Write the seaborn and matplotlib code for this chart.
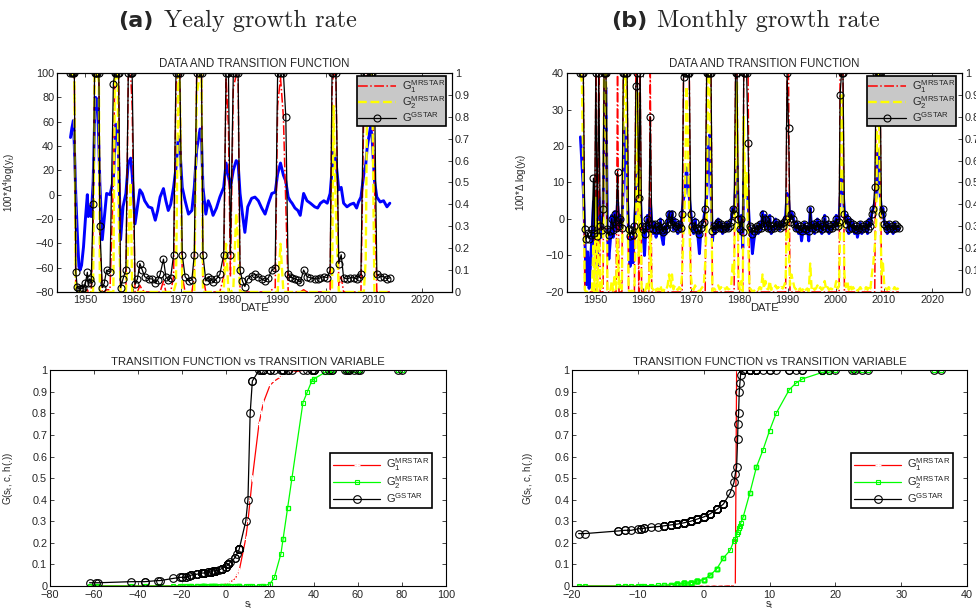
import numpy as np
import matplotlib
matplotlib.use('Agg')
import matplotlib.pyplot as plt
from matplotlib.ticker import FuncFormatter, MultipleLocator
import seaborn as sns

# (a) yearly growth rate: dates, data (transition variable) and transition functions
years_a = [1947.0, 1947.3, 1947.6, 1947.8, 1948.1, 1948.4, 1948.75, 1949.0, 1949.3, 1949.7,
           1950.1, 1950.5, 1950.7, 1951.0, 1951.3, 1951.7, 1952.0, 1952.2, 1952.6, 1952.9,
           1953.1, 1953.6, 1954.0, 1954.5, 1955.2, 1955.9, 1956.2, 1956.4, 1956.8, 1957.0,
           1957.4, 1957.9, 1958.5, 1959.0, 1959.5, 1959.8, 1960.4, 1960.9, 1961.4, 1961.9,
           1962.4, 1963.2, 1963.9, 1964.6, 1965.1, 1965.6, 1966.3, 1966.8, 1967.3, 1967.8,
           1968.4, 1968.9, 1969.4, 1969.7, 1970.2, 1970.8, 1971.5, 1972.2, 1972.7, 1973.2,
           1973.9, 1974.2, 1974.5, 1975.1, 1975.6, 1976.1, 1976.6, 1977.3, 1978.0, 1978.8,
           1979.3, 1979.8, 1980.2, 1980.8, 1981.4, 1981.8, 1982.2, 1982.7, 1983.2, 1983.8,
           1984.6, 1985.3, 1986.0, 1986.7, 1987.4, 1988.1, 1988.8, 1989.5, 1990.0, 1990.6,
           1991.2, 1991.7, 1992.2, 1992.6, 1993.0, 1993.6, 1994.2, 1994.7, 1995.4, 1996.1,
           1996.8, 1997.7, 1998.3, 1998.9, 1999.6, 2000.3, 2000.9, 2001.3, 2001.6, 2002.1,
           2002.7, 2003.2, 2003.7, 2004.4, 2005.1, 2005.8, 2006.4, 2006.8, 2007.3, 2007.9,
           2008.3, 2008.6, 2009.3, 2009.6, 2010.1, 2010.6, 2011.3, 2012.0, 2012.7, 2013.3]
growth_a = [47, 55, 61, 40, 0, -30, -59, -62, -58, -43,
            -20, 0, -18, -10, -18, 10, 60, 80, 78, 40,
            9, -37, -20, 1, 0, 12, 40, 58, 56, 28,
            -37, -10, 1, 26, 30, 17, -24, -10, 4, 1,
            -5, -10, -11, -21, -13, -2, 5, -5, -13, -8,
            6, 22, 48, 39, 6, -5, -16, -13, 6, 37,
            54, 45, 6, -16, -5, -10, -17, -11, -2, 6,
            26, 15, 6, 20, 28, 26, 1, -16, -31, -10,
            -3, -2, -5, -11, -16, -7, 1, 2, 17, 26,
            16, 11, -2, -5, -7, -11, -13, -17, 1, -5,
            -7, -10, -11, -7, -5, -7, 1, 20, 35, 28,
            4, 6, -7, -10, -8, -7, -11, -6, -2, 17,
            25, 39, 56, 48, 12, -2, -6, -5, -10, -7]
gstar_a = [1, 1, 1, 1, 0.09, 0.025, 0.015, 0.015, 0.015, 0.02,
           0.04, 0.09, 0.04, 0.06, 0.04, 0.4, 1, 1, 1, 1,
           0.3, 0.02, 0.04, 0.1, 0.09, 0.95, 1, 1, 1, 1,
           0.02, 0.06, 0.1, 1, 1, 1, 0.035, 0.06, 0.13, 0.1,
           0.07, 0.06, 0.06, 0.04, 0.055, 0.08, 0.15, 0.07, 0.055, 0.065,
           0.17, 1, 1, 1, 0.17, 0.07, 0.05, 0.055, 0.17, 1,
           1, 1, 0.17, 0.05, 0.07, 0.06, 0.045, 0.06, 0.08, 0.17,
           1, 1, 0.17, 1, 1, 1, 0.1, 0.05, 0.025, 0.06,
           0.075, 0.08, 0.07, 0.06, 0.05, 0.065, 0.1, 0.11, 1, 1,
           1, 0.8, 0.08, 0.07, 0.065, 0.06, 0.055, 0.045, 0.1, 0.07,
           0.065, 0.06, 0.06, 0.065, 0.07, 0.065, 0.1, 1, 1, 1,
           0.13, 0.17, 0.065, 0.06, 0.065, 0.065, 0.06, 0.07, 0.08, 1,
           1, 1, 1, 1, 0.95, 0.08, 0.07, 0.07, 0.06, 0.065]
g1_a = [1, 1, 1, 1, 0.01, 0, 0, 0, 0, 0,
        0, 0.01, 0, 0, 0, 0.3, 1, 1, 1, 1,
        0.22, 0, 0, 0.01, 0.01, 0.5, 1, 1, 1, 0.99,
        0, 0, 0.01, 0.98, 0.99, 0.85, 0, 0, 0.03, 0.01,
        0, 0, 0, 0, 0, 0, 0.05, 0, 0, 0,
        0.07, 0.95, 1, 1, 0.07, 0, 0, 0, 0.07, 1,
        1, 1, 0.07, 0, 0, 0, 0, 0, 0, 0.07,
        0.98, 0.75, 0.07, 0.93, 0.99, 0.98, 0.01, 0, 0, 0,
        0, 0, 0, 0, 0, 0, 0.01, 0.02, 0.85, 0.98,
        0.8, 0.4, 0, 0, 0, 0, 0, 0, 0.01, 0,
        0, 0, 0, 0, 0, 0, 0.01, 0.93, 1, 0.99,
        0.03, 0.07, 0, 0, 0, 0, 0, 0, 0, 0.85,
        0.97, 1, 1, 1, 0.5, 0, 0, 0, 0, 0]
g2_a = [0.99, 1, 1, 0.96, 0, 0, 0, 0, 0, 0,
        0, 0, 0, 0, 0, 0, 1, 1, 1, 0.96,
        0, 0, 0, 0, 0, 0, 0.96, 1, 1, 0.36,
        0, 0, 0, 0.22, 0.5, 0, 0, 0, 0, 0,
        0, 0, 0, 0, 0, 0, 0, 0, 0, 0,
        0, 0.04, 1, 0.95, 0, 0, 0, 0, 0, 0.9,
        1, 0.99, 0, 0, 0, 0, 0, 0, 0, 0,
        0.22, 0, 0, 0.01, 0.36, 0.22, 0, 0, 0, 0,
        0, 0, 0, 0, 0, 0, 0, 0, 0, 0.22,
        0, 0, 0, 0, 0, 0, 0, 0, 0, 0,
        0, 0, 0, 0, 0, 0, 0, 0.01, 0.85, 0.36,
        0, 0, 0, 0, 0, 0, 0, 0, 0, 0,
        0.15, 0.95, 1, 1, 0, 0, 0, 0, 0, 0]

# (b) monthly growth rate
years_b = [1947.0, 1947.3, 1947.6, 1947.9, 1948.2, 1948.5, 1948.8, 1949.1, 1949.4, 1949.7,
           1949.9, 1950.2, 1950.5, 1950.8, 1951.1, 1951.4, 1951.7, 1951.9, 1952.1, 1952.3,
           1952.6, 1952.9, 1953.2, 1953.5, 1953.8, 1954.1, 1954.4, 1954.7, 1955.0, 1955.3,
           1955.6, 1955.9, 1956.1, 1956.4, 1956.7, 1957.0, 1957.3, 1957.6, 1957.9, 1958.2,
           1958.5, 1958.8, 1959.1, 1959.4, 1959.7, 1960.0, 1960.3, 1960.6, 1960.9, 1961.2,
           1961.5, 1961.8, 1962.1, 1962.4, 1962.7, 1963.0, 1963.3, 1963.6, 1963.9, 1964.2,
           1964.5, 1964.8, 1965.1, 1965.4, 1965.7, 1966.0, 1966.3, 1966.6, 1966.9, 1967.2,
           1967.5, 1967.8, 1968.1, 1968.4, 1968.7, 1969.0, 1969.3, 1969.6, 1969.9, 1970.2,
           1970.5, 1970.8, 1971.1, 1971.4, 1971.7, 1972.0, 1972.3, 1972.6, 1972.9, 1973.2,
           1973.5, 1973.8, 1974.1, 1974.4, 1974.7, 1975.0, 1975.3, 1975.6, 1975.9, 1976.2,
           1976.5, 1976.8, 1977.1, 1977.4, 1977.7, 1978.0, 1978.3, 1978.6, 1978.9, 1979.2,
           1979.5, 1979.8, 1980.1, 1980.4, 1980.7, 1980.9, 1981.2, 1981.5, 1981.8, 1982.1,
           1982.4, 1982.7, 1983.0, 1983.3, 1983.6, 1983.9, 1984.2, 1984.5, 1984.8, 1985.1,
           1985.4, 1985.7, 1986.0, 1986.3, 1986.6, 1986.9, 1987.2, 1987.5, 1987.8, 1988.1,
           1988.4, 1988.7, 1989.0, 1989.3, 1989.6, 1989.9, 1990.2, 1990.5, 1990.8, 1991.1,
           1991.4, 1991.7, 1992.0, 1992.3, 1992.6, 1992.9, 1993.2, 1993.5, 1993.8, 1994.1,
           1994.4, 1994.7, 1995.0, 1995.3, 1995.6, 1995.9, 1996.2, 1996.5, 1996.8, 1997.1,
           1997.4, 1997.7, 1998.0, 1998.3, 1998.6, 1998.9, 1999.2, 1999.5, 1999.8, 2000.1,
           2000.4, 2000.7, 2000.9, 2001.2, 2001.5, 2001.8, 2002.1, 2002.4, 2002.7, 2003.0,
           2003.3, 2003.6, 2003.9, 2004.2, 2004.5, 2004.8, 2005.1, 2005.4, 2005.7, 2006.0,
           2006.3, 2006.6, 2006.9, 2007.2, 2007.5, 2007.8, 2008.1, 2008.4, 2008.7, 2008.9,
           2009.2, 2009.5, 2009.8, 2010.1, 2010.4, 2010.7, 2011.0, 2011.3, 2011.6, 2011.9,
           2012.2, 2012.5, 2012.8, 2013.1]
growth_b = [22.5, 15, 8, -4, -18, -9, -19, -12, -4, 4.8,
            -9, 7, -13, 6, -2, -5, 3, 20, 35, 36,
            -4, -11, -6, 1, -5, 2, -3, 5, -2, 1,
            -3, 10, 25, 24, 8, -4, -13, -5, -12, -2,
            5.5, 13, 4, 8, -2, -4, -10, -2, 1, -3,
            5.3, -1, -4, -1, -5, -2, -4, 0, -5, -7,
            -2, -4, 0, 2, -1, 2, -3, 0, -2, -4,
            -1, -3, 2, 5.6, 7, 14, 10, 6, 2, -2,
            -4, 0, -3, -5, -9.5, -3, -1, 0, 3, 6,
            18, 23, 8, -6, -2, -4, -1, 0, -3, -1,
            -4, -2, -3, -1, -3, -2, 0, 3, 2, 9,
            15, 1, -4, 1, -8, 11, 7, 8, 5.15, -2,
            -3, -9.5, -6, -3, -2, -4, -1, -3, 2, -2,
            1, -2, -3, 1, -4, -2, -3, 0, -2, -1,
            -3, -1, -2, 0, 1, 7, 5.2, 0, 2, 1,
            -1, -3, -1, -4, -2, -6, -3, -1, -4, -2,
            -6, 3, -3, -1, -4, -2, 0, -3, -1, -4,
            -2, 1, -3, -1, -4, -2, -3, -1, -2, 1,
            -2, 0, 5.4, 13, 8, 2, -1, 1, -4, 0,
            -3, -1, -4, -2, -5, -3, -1, -4, -2, -3,
            -1, -4, 0, -2, 2, 3, 4.6, 6, 19, 18,
            7, 2, 3, -1, -2, -4, -1, -3, -2, -4,
            -1, -3, -2, -3]
gstar_b = [1, 1, 1, 0.287, 0.243, 0.268, 0.243, 0.258, 0.287, 0.52,
           0.268, 1, 0.255, 1, 0.30, 0.283, 0.38, 1, 1, 1,
           0.287, 0.258, 0.279, 0.335, 0.283, 0.355, 0.293, 0.55, 0.30, 0.335,
           0.293, 1, 1, 1, 1, 0.287, 0.255, 0.283, 0.258, 0.30,
           0.94, 1, 0.43, 1, 0.30, 0.287, 0.265, 0.30, 0.335, 0.293,
           0.8, 0.31, 0.287, 0.31, 0.283, 0.30, 0.287, 0.32, 0.283, 0.275,
           0.30, 0.287, 0.32, 0.355, 0.31, 0.355, 0.293, 0.32, 0.30, 0.287,
           0.31, 0.293, 0.355, 0.98, 1, 1, 1, 1, 0.355, 0.30,
           0.287, 0.32, 0.293, 0.283, 0.266, 0.293, 0.31, 0.32, 0.38, 1,
           1, 1, 1, 0.279, 0.30, 0.287, 0.31, 0.32, 0.293, 0.31,
           0.287, 0.30, 0.293, 0.31, 0.293, 0.30, 0.32, 0.38, 0.355, 1,
           1, 0.335, 0.287, 0.335, 0.272, 1, 1, 1, 0.68, 0.30,
           0.293, 0.266, 0.279, 0.293, 0.30, 0.287, 0.31, 0.293, 0.355, 0.30,
           0.335, 0.30, 0.293, 0.335, 0.287, 0.30, 0.293, 0.32, 0.30, 0.31,
           0.293, 0.31, 0.30, 0.32, 0.335, 1, 0.75, 0.32, 0.355, 0.335,
           0.31, 0.293, 0.31, 0.287, 0.30, 0.279, 0.293, 0.31, 0.287, 0.30,
           0.279, 0.38, 0.293, 0.31, 0.287, 0.30, 0.32, 0.293, 0.31, 0.287,
           0.30, 0.335, 0.293, 0.31, 0.287, 0.30, 0.293, 0.31, 0.30, 0.335,
           0.30, 0.32, 0.9, 1, 1, 0.355, 0.31, 0.335, 0.287, 0.32,
           0.293, 0.31, 0.287, 0.30, 0.283, 0.293, 0.31, 0.287, 0.30, 0.293,
           0.31, 0.287, 0.32, 0.30, 0.355, 0.38, 0.48, 1, 1, 1,
           1, 0.355, 0.38, 0.31, 0.30, 0.287, 0.31, 0.293, 0.30, 0.287,
           0.31, 0.293, 0.30, 0.293]
g1_b = [1, 1, 1, 0, 0, 0, 0, 0, 0, 0,
        0, 1, 0, 1, 0, 0, 0, 1, 1, 1,
        0, 0, 0, 0, 0, 0, 0, 1, 0, 0,
        0, 1, 1, 1, 1, 0, 0, 0, 0, 0,
        1, 1, 0, 1, 0, 0, 0, 0, 0, 0,
        1, 0, 0, 0, 0, 0, 0, 0, 0, 0,
        0, 0, 0, 0, 0, 0, 0, 0, 0, 0,
        0, 0, 0, 1, 1, 1, 1, 1, 0, 0,
        0, 0, 0, 0, 0, 0, 0, 0, 0, 1,
        1, 1, 1, 0, 0, 0, 0, 0, 0, 0,
        0, 0, 0, 0, 0, 0, 0, 0, 0, 1,
        1, 0, 0, 0, 0, 1, 1, 1, 1, 0,
        0, 0, 0, 0, 0, 0, 0, 0, 0, 0,
        0, 0, 0, 0, 0, 0, 0, 0, 0, 0,
        0, 0, 0, 0, 0, 1, 1, 0, 0, 0,
        0, 0, 0, 0, 0, 0, 0, 0, 0, 0,
        0, 0, 0, 0, 0, 0, 0, 0, 0, 0,
        0, 0, 0, 0, 0, 0, 0, 0, 0, 0,
        0, 0, 1, 1, 1, 0, 0, 0, 0, 0,
        0, 0, 0, 0, 0, 0, 0, 0, 0, 0,
        0, 0, 0, 0, 0, 0, 0, 1, 1, 1,
        1, 0, 0, 0, 0, 0, 0, 0, 0, 0,
        0, 0, 0, 0]
g2_b = [1, 0.96, 0.55, 0.01, 0, 0.001, 0, 0, 0.01, 0.22,
        0.001, 0.43, 0, 0.32, 0.016, 0.006, 0.13, 1, 1, 1,
        0.01, 0, 0.004, 0.05, 0.006, 0.08, 0.012, 0.24, 0.016, 0.05,
        0.012, 0.72, 1, 1, 0.55, 0.01, 0, 0.006, 0, 0.016,
        0.28, 0.91, 0.165, 0.55, 0.016, 0.01, 0, 0.016, 0.05, 0.012,
        0.27, 0.022, 0.01, 0.022, 0.006, 0.016, 0.01, 0.03, 0.006, 0.003,
        0.016, 0.01, 0.03, 0.08, 0.022, 0.08, 0.012, 0.03, 0.016, 0.01,
        0.022, 0.012, 0.08, 0.29, 0.43, 0.94, 0.72, 0.32, 0.08, 0.016,
        0.01, 0.03, 0.012, 0.006, 0.001, 0.012, 0.022, 0.03, 0.13, 0.32,
        0.99, 1, 0.55, 0.004, 0.016, 0.01, 0.022, 0.03, 0.012, 0.022,
        0.01, 0.016, 0.012, 0.022, 0.012, 0.016, 0.03, 0.13, 0.08, 0.63,
        0.96, 0.05, 0.01, 0.05, 0.002, 0.8, 0.43, 0.55, 0.25, 0.016,
        0.012, 0.001, 0.004, 0.012, 0.016, 0.01, 0.022, 0.012, 0.08, 0.016,
        0.05, 0.016, 0.012, 0.05, 0.01, 0.016, 0.012, 0.03, 0.016, 0.022,
        0.012, 0.022, 0.016, 0.03, 0.05, 0.43, 0.25, 0.03, 0.08, 0.05,
        0.022, 0.012, 0.022, 0.01, 0.016, 0.004, 0.012, 0.022, 0.01, 0.016,
        0.004, 0.13, 0.012, 0.022, 0.01, 0.016, 0.03, 0.012, 0.022, 0.01,
        0.016, 0.05, 0.012, 0.022, 0.01, 0.016, 0.012, 0.022, 0.016, 0.05,
        0.016, 0.03, 0.27, 0.91, 0.55, 0.08, 0.022, 0.05, 0.01, 0.03,
        0.012, 0.022, 0.01, 0.016, 0.006, 0.012, 0.022, 0.01, 0.016, 0.012,
        0.022, 0.01, 0.03, 0.016, 0.08, 0.13, 0.21, 0.32, 0.99, 0.99,
        0.43, 0.08, 0.13, 0.022, 0.016, 0.01, 0.022, 0.012, 0.016, 0.01,
        0.022, 0.012, 0.016, 0.012]

labels = [r'G$_1^{\mathrm{MRSTAR}}$', r'G$_2^{\mathrm{MRSTAR}}$', r'G$^{\mathrm{GSTAR}}$']

sns.set_style('ticks')
plt.rcParams['font.family'] = ['Liberation Sans', 'DejaVu Sans']
plt.rcParams['mathtext.fontset'] = 'custom'
plt.rcParams['mathtext.rm'] = 'Liberation Sans'
plt.rcParams['mathtext.it'] = 'Liberation Sans:italic'
plt.rcParams['mathtext.bf'] = 'Liberation Sans:bold'
plt.rcParams['xtick.direction'] = 'in'
plt.rcParams['ytick.direction'] = 'in'
plt.rcParams['axes.linewidth'] = 0.8
plt.rcParams['axes.edgecolor'] = 'black'

fmt = FuncFormatter(lambda v, p: '%g' % round(v, 2))
TICK = 7.8

fig = plt.figure(figsize=(9.76, 6.12), dpi=100)


def top_panel(rect, years, growth, g1, g2, gstar, ylim, ystep, ylabel, ylab_x):
    ax = fig.add_axes(rect)
    sns.lineplot(x=years, y=growth, ax=ax, color='#0000ff', lw=2.1,
                 estimator=None, sort=False)
    ax.set_xlim(1944.2, 2026.2)
    ax.set_ylim(*ylim)
    ax.set_xticks(range(1950, 2030, 10))
    ax.yaxis.set_major_locator(MultipleLocator(ystep))
    ax.tick_params(top=True, right=False, length=3, width=0.6, labelsize=TICK, pad=2)
    ax.set_title('DATA AND TRANSITION FUNCTION', fontsize=8.3, pad=4)
    ax.set_xlabel('DATE', fontsize=8, va='top')
    ax.xaxis.set_label_coords(0.5, -0.05)
    ax.set_ylabel(ylabel, fontsize=7)
    ax.yaxis.set_label_coords(ylab_x, 0.5)

    ax2 = ax.twinx()
    sns.lineplot(x=years, y=g1, ax=ax2, color='#ff0000', ls='-.', lw=1.1,
                 estimator=None, sort=False, label=labels[0])
    sns.lineplot(x=years, y=g2, ax=ax2, color='#ffff00', ls='--', lw=1.7,
                 estimator=None, sort=False, label=labels[1])
    sns.lineplot(x=years, y=gstar, ax=ax2, color='black', lw=0.9, marker='o',
                 ms=5, mfc='none', mec='black', mew=0.8,
                 estimator=None, sort=False, label=labels[2])
    ax2.set_ylim(0, 1)
    ax2.yaxis.set_major_locator(MultipleLocator(0.1))
    ax2.yaxis.set_major_formatter(fmt)
    ax2.tick_params(length=3, width=0.6, labelsize=TICK, pad=2)
    leg = ax2.legend(loc='upper right', bbox_to_anchor=(0.986, 0.985), fontsize=8,
                     facecolor='#c8c8c8', edgecolor='black', fancybox=False,
                     framealpha=1, borderpad=0.15, labelspacing=-0.05,
                     handlelength=3.4, handletextpad=0.5, borderaxespad=0)
    leg.get_frame().set_linewidth(1.2)
    return ax, ax2


def bottom_panel(rect, growth, g1, g2, gstar, xlim, xstep, ylab_x):
    ax = fig.add_axes(rect)
    order = np.argsort(growth, kind='stable')
    s = np.asarray(growth, dtype=float)[order]
    sns.lineplot(x=s, y=np.asarray(g1)[order], ax=ax, color='#ff0000', lw=0.9,
                 marker='+', ms=4, mew=0.8, estimator=None, sort=False,
                 label=labels[0])
    sns.lineplot(x=s, y=np.asarray(g2)[order], ax=ax, color='#00ff00', lw=0.9,
                 marker='s', ms=3, mfc='none', mec='#00ff00', mew=0.8,
                 estimator=None, sort=False, label=labels[1])
    sns.lineplot(x=s, y=np.asarray(gstar)[order], ax=ax, color='black', lw=0.9,
                 marker='o', ms=5.5, mfc='none', mec='black', mew=0.8,
                 estimator=None, sort=False, label=labels[2])
    ax.set_xlim(*xlim)
    ax.set_ylim(0, 1)
    ax.xaxis.set_major_locator(MultipleLocator(xstep))
    ax.yaxis.set_major_locator(MultipleLocator(0.1))
    ax.yaxis.set_major_formatter(fmt)
    ax.tick_params(top=True, right=True, length=3, width=0.6, labelsize=TICK, pad=2)
    ax.tick_params(axis='x', pad=3)
    ax.set_title('TRANSITION FUNCTION vs TRANSITION VARIABLE', fontsize=8.2, pad=4)
    ax.set_xlabel(r's$_\mathrm{t}$', fontsize=7, va='top')
    ax.xaxis.set_label_coords(0.5, -0.06)
    ax.set_ylabel(r'G(s$_\mathrm{t}$, c, h(.))', fontsize=7)
    ax.yaxis.set_label_coords(ylab_x, 0.5)
    leg = ax.legend(loc='upper right', bbox_to_anchor=(0.965, 0.615), fontsize=8,
                    facecolor='white', edgecolor='black', fancybox=False,
                    framealpha=1, borderpad=0.3, labelspacing=0.05,
                    handlelength=4.2, handletextpad=0.5, borderaxespad=0)
    leg.get_frame().set_linewidth(1.2)
    return ax


top_panel([0.0584, 0.5229, 0.4047, 0.3578], years_a, growth_a, g1_a, g2_a, gstar_a,
          (-80, 100), 20, r'100*$\Delta^4$log(y$_\mathrm{t}$)', -0.1)
top_panel([0.5809, 0.5229, 0.4047, 0.3578], years_b, growth_b, g1_b, g2_b, gstar_b,
          (-20, 40), 10, r'100*$\Delta$ log(y$_\mathrm{t}$)', -0.099)
bottom_panel([0.0512, 0.0425, 0.4057, 0.3525], growth_a, g1_a, g2_a, gstar_a,
             (-80, 100), 20, -0.088)
bottom_panel([0.5861, 0.0425, 0.4047, 0.3525], growth_b, g1_b, g2_b, gstar_b,
             (-20, 40), 10, -0.094)

# panel titles: bold sans tag + serif caption
fig.text(118 / 976, 1 - 27 / 612, '(a)', fontsize=16, fontweight='bold',
         family='DejaVu Sans', va='baseline')
fig.text(164 / 976, 1 - 27 / 612, 'Yealy growth rate', fontsize=17.5,
         family='cmr10', va='baseline')
fig.text(611 / 976, 1 - 27 / 612, '(b)', fontsize=16, fontweight='bold',
         family='DejaVu Sans', va='baseline')
fig.text(657 / 976, 1 - 27 / 612, 'Monthly growth rate', fontsize=17.5,
         family='cmr10', va='baseline')

fig.savefig('out.png', dpi=100)
